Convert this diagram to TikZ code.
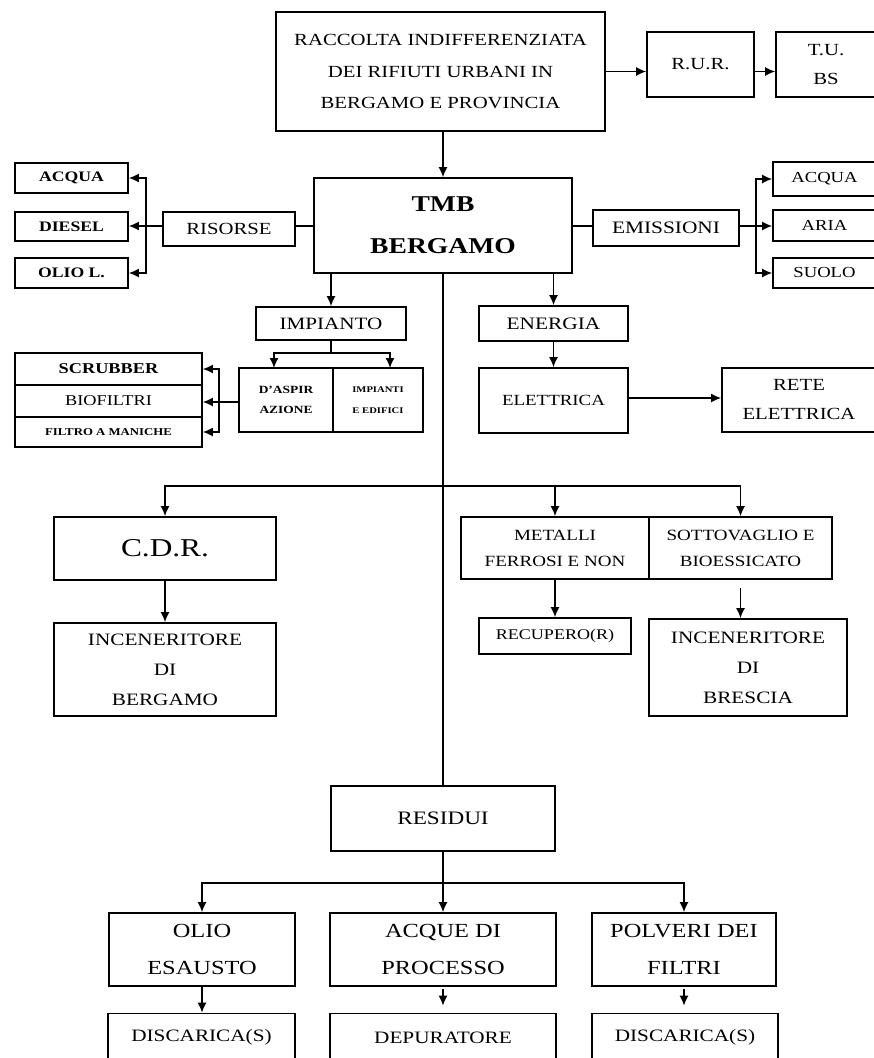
\documentclass[tikz,border=0pt]{standalone}
\usepackage{fontspec}
\setmainfont{Liberation Serif}[FakeStretch=1.22]
\usetikzlibrary{arrows.meta}
\begin{document}
\begin{tikzpicture}[x=1pt,y=-1pt,
  bx/.style={draw, line width=1.6pt, inner sep=0pt, align=center, anchor=center},
  wh/.style 2 args={minimum width=#1pt, minimum height=#2pt},
  fs/.style 2 args={font=\fontsize{#1}{#2}\selectfont},
  fsb/.style 2 args={font=\fontsize{#1}{#2}\selectfont\bfseries},
  ln/.style={line width=1.6pt},
  arr/.style={line width=1.6pt, -{Latex[length=10pt,width=9pt]}}]
\fill[white] (0,0) rectangle (874,1058);
\useasboundingbox (0,0) rectangle (874,1058);

% top row
\node[bx,wh={329}{119},fs={17}{31.5}] (top) at (440.5,71.5) {RACCOLTA INDIFFERENZIATA\\DEI RIFIUTI URBANI IN\\BERGAMO E PROVINCIA};
\node[bx,wh={107}{65},fs={17}{29}] (rur) at (700.5,64.5) {R.U.R.};
\node[bx,wh={100}{65},fs={17}{29}] (tu) at (826,64.5) {T.U.\\BS};

% TMB row
\node[bx,wh={258}{95},fsb={22.6}{42}] (tmb) at (443,225.5) {TMB\\BERGAMO};
\node[bx,wh={132}{34},fs={17}{20}] (ris) at (229,229) {RISORSE};
\node[bx,wh={113}{30},fsb={14.5}{18}] (lacq) at (71.5,178) {ACQUA};
\node[bx,wh={113}{29},fsb={14.5}{18}] (dies) at (71.5,226.5) {DIESEL};
\node[bx,wh={113}{30},fsb={14.5}{18}] (olil) at (71.5,273) {OLIO L.};
\node[bx,wh={146}{36},fs={17.5}{20}] (emi) at (666,228) {EMISSIONI};
\node[bx,wh={103}{34},fs={15.3}{18}] (racq) at (824.5,179) {ACQUA};
\node[bx,wh={103}{31},fs={15.3}{18}] (aria) at (824.5,225.5) {ARIA};
\node[bx,wh={103}{30},fs={15.3}{18}] (suolo) at (824.5,273) {SUOLO};

% impianto / energia
\node[bx,wh={150}{33},fs={17.3}{20}] (imp) at (331,323.5) {IMPIANTO};
\node[bx,wh={149}{35},fs={17.5}{20}] (ene) at (553.5,323.5) {ENERGIA};
\node[bx,wh={94}{64},fsb={11}{20}] (asp) at (286,400) {D'ASPIR\\AZIONE};
\node[bx,wh={90}{64},fsb={8.7}{21}] (impe) at (378,400) {IMPIANTI\\E EDIFICI};
\node[bx,wh={187}{32},fsb={15}{18}] (scr) at (108.5,369) {SCRUBBER};
\node[bx,wh={187}{32},fs={15}{18}] (bio) at (108.5,401) {BIOFILTRI};
\node[bx,wh={187}{30},fsb={10.5}{14}] (filt) at (108.5,432) {FILTRO A MANICHE};
\node[bx,wh={149}{65},fs={15.5}{20}] (ele) at (553.5,400.5) {ELETTRICA};
\node[bx,wh={154}{64},fs={17}{29}] (rete) at (799,400) {RETE\\ELETTRICA};

% middle
\node[bx,wh={222}{63},fs={25.7}{30}] (cdr) at (165,548.5) {C.D.R.};
\node[bx,wh={222}{93},fs={17.4}{30}] (incbg) at (165,669.5) {INCENERITORE\\DI\\BERGAMO};
\node[bx,wh={188}{62},fs={15.6}{26}] (met) at (555,548) {METALLI\\FERROSI E NON};
\node[bx,wh={183}{62},fs={15.6}{26}] (sot) at (740.5,548) {SOTTOVAGLIO E\\BIOESSICATO};
\node[bx,wh={152}{36},fs={14.8}{18}] (rec) at (555,636) {RECUPERO(R)};
\node[bx,wh={198}{97},fs={17.4}{30}] (incbs) at (748,667.5) {INCENERITORE\\DI\\BRESCIA};

% residui
\node[bx,wh={224}{65},fs={19}{22}] (res) at (443,818.5) {RESIDUI};
\node[bx,wh={186}{73},fs={20}{37}] (olio) at (202,949.5) {OLIO\\ESAUSTO};
\node[bx,wh={226}{73},fs={20}{37}] (acq) at (443,949.5) {ACQUE DI\\PROCESSO};
\node[bx,wh={184}{73},fs={20}{37}] (polv) at (684,949.5) {POLVERI DEI\\FILTRI};
\node[bx,wh={187}{48},fs={17.4}{20}] (disc1) at (201.5,1037.5) {DISCARICA(S)};
\node[bx,wh={226}{48},fs={17.4}{20}] (dep) at (443,1037.5) {DEPURATORE};
\node[bx,wh={186}{48},fs={17.4}{20}] (disc2) at (685,1037.5) {DISCARICA(S)};

% coordinates
\coordinate (rowy) at (0,226);
\coordinate (lb) at (146,226);
\coordinate (rb) at (756,226);
\coordinate (impj) at (331,353);
\coordinate (ta) at (274,368);
\coordinate (tb) at (390,368);
\coordinate (sb) at (219,402);
\coordinate (mb) at (443,486);
\coordinate (rbus) at (443,883);

% connectors top
\draw[arr] (top.east) -- (top.east -| rur.west);
\draw[arr] (rur.east |- top.east) -- (tu.west |- top.east);
\draw[arr] (tmb.north |- top.south) -- (tmb.north);

% left resources
\draw[ln] (tmb.west |- rowy) -- (ris.east |- rowy);
\draw[arr] (ris.west |- rowy) -- (dies.east |- rowy);
\draw[arr] (lb) |- (lacq.east);
\draw[arr] (lb) |- (olil.east);

% right emissions
\draw[ln] (tmb.east |- rowy) -- (emi.west |- rowy);
\draw[arr] (emi.east |- rowy) -- (aria.west |- rowy);
\draw[arr] (rb) |- (racq.west);
\draw[arr] (rb) |- (suolo.west);

% impianto
\draw[arr] (imp.north |- tmb.south) -- (imp.north);
\draw[ln] (imp.south) -- (impj);
\draw[arr] (impj) -| (ta);
\draw[arr] (impj) -| (tb);
\draw[ln] (asp.west |- sb) -- (sb);
\draw[arr] (sb) |- (scr.east);
\draw[arr] (sb) -- (bio.east |- sb);
\draw[arr] (sb) |- (filt.east);

% energia
\draw[arr] (ene.north |- tmb.south) -- (ene.north);
\draw[arr] (ene.south) -- (ele.north);
\draw[arr] (ele.east |- 0,398) -- (rete.west |- 0,398);

% central line and middle bus
\draw[ln] (tmb.south) -- (res.north);
\draw[arr] (mb) -| (cdr.north);
\draw[arr] (mb) -| (met.north);
\draw[arr] (mb) -| (sot.north);
\draw[arr] (cdr.south) -- (incbg.north);
\draw[arr] (met.south) -- (rec.north);
\draw[arr] ([yshift=-8pt]sot.south) -- (incbs.north -| sot.south);

% residui
\draw[ln] (res.south) -- (rbus);
\draw[arr] (rbus) -| (olio.north);
\draw[arr] (rbus) -- (acq.north);
\draw[arr] (rbus) -| (polv.north);
\draw[arr] (olio.south) -- (disc1.north -| olio.south);
\draw[arr] ([yshift=-2pt]acq.south) -- ([yshift=7pt]dep.north);
\draw[arr] ([yshift=-2pt]polv.south) -- ([yshift=7pt]disc2.north -| polv.south);
\end{tikzpicture}
\end{document}
